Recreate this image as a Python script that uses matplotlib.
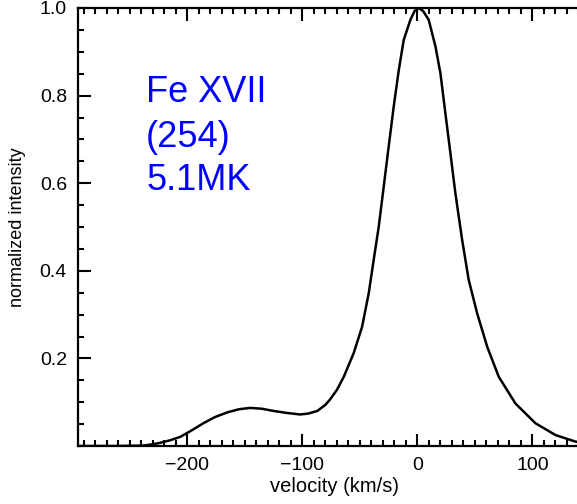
import matplotlib
matplotlib.use("Agg")
import matplotlib.pyplot as plt
from matplotlib.ticker import MultipleLocator, FixedLocator
from matplotlib.transforms import IdentityTransform

# line profile
velocity = [-295, -260, -238, -230, -224, -215, -206, -196, -186, -176, -165,
            -155, -145, -135, -125, -115, -102, -95, -87, -80, -76, -70, -64,
            -55.4, -48.1, -42.3, -38, -33.6, -29.3, -25, -20.6, -16.2, -11.9,
            -6.1, -2.5, 1.2, 5, 9.8, 15.7, 20, 24.3, 28.7, 33, 38.9, 44.6,
            51.9, 60.6, 70.7, 85.2, 102.6, 120, 137.4, 150]
intensity = [0.0, 0.0, 0.001, 0.004, 0.007, 0.013, 0.021, 0.036, 0.052, 0.066, 0.077,
             0.084, 0.087, 0.085, 0.080, 0.076, 0.072, 0.074, 0.080, 0.094, 0.106, 0.128, 0.158,
             0.212, 0.272, 0.349, 0.425, 0.501, 0.592, 0.683, 0.775, 0.858, 0.927,
             0.973, 0.993, 1.0, 0.993, 0.973, 0.912, 0.851, 0.760, 0.668, 0.577, 0.470, 0.379,
             0.303, 0.227, 0.158, 0.097, 0.052, 0.025, 0.010, 0.005]

x_ticks = [-200, -100, 0, 100]
x_tick_labels = ["\u2212200", "\u2212100", "0", "100"]
y_ticks = [0.2, 0.4, 0.6, 0.8, 1.0]
y_tick_labels = ["0.2", "0.4", "0.6", "0.8", "1.0"]
label_lines = ["Fe XVII", "(254)", "5.1MK"]

plt.rcParams['font.family'] = ['Liberation Sans', 'DejaVu Sans']

fig = plt.figure(figsize=(5.77, 5.04), dpi=100)
# right edge of the box sits outside the picture, as in the original
ax = fig.add_axes([78 / 577, 58 / 504, 512 / 577, 438 / 504])

ax.plot(velocity, intensity, color='black', lw=1.8, solid_joinstyle='round')

ax.set_xlim(-295, 150)
ax.set_ylim(0, 1.0)

ax.xaxis.set_major_locator(FixedLocator(x_ticks))
ax.xaxis.set_minor_locator(MultipleLocator(10))
ax.yaxis.set_major_locator(FixedLocator(y_ticks))
ax.yaxis.set_minor_locator(MultipleLocator(0.05))
ax.set_xticklabels(x_tick_labels)
ax.set_yticklabels(y_tick_labels)

ax.tick_params(which='both', direction='in', top=True, right=True, width=1.5,
               labelsize=14, pad=8)
ax.tick_params(which='major', length=9)
ax.tick_params(which='minor', length=4.5)
for s in ax.spines.values():
    s.set_linewidth(1.6)

ax.set_xlabel("velocity (km/s)", fontsize=14.5, labelpad=2)
ax.set_ylabel("normalized intensity", fontsize=13, labelpad=10)

# blue annotation, baselines placed in pixel coordinates
for line, base in zip(label_lines, [102, 147, 190]):
    fig.text(146, 504 - base, line, transform=IdentityTransform(),
             color='#0000ff', fontsize=26, va='baseline', ha='left')

fig.savefig("out.png", dpi=100)
